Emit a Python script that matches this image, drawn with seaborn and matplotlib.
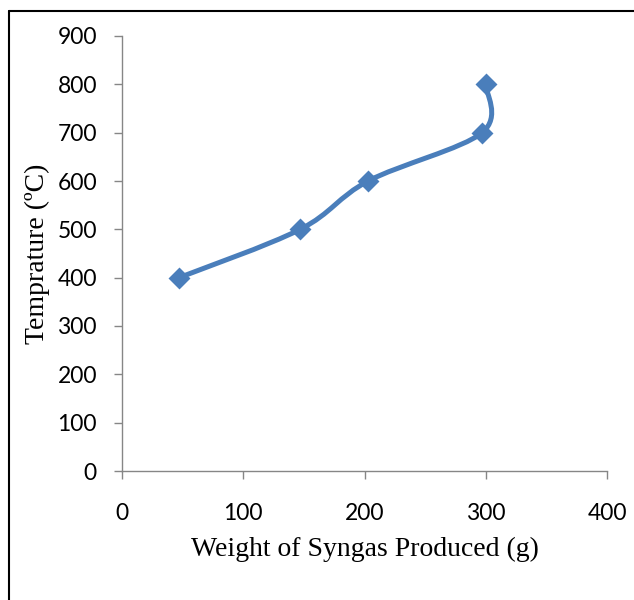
import numpy as np
import matplotlib
matplotlib.use("Agg")
import matplotlib.pyplot as plt
from matplotlib.path import Path
from matplotlib.patches import PathPatch
from matplotlib.lines import Line2D
import seaborn as sns

# data
weight = [47, 147, 203, 297, 300]
temperature = [400, 500, 600, 700, 800]
x_ticks = [0, 100, 200, 300, 400]
y_ticks = [0, 100, 200, 300, 400, 500, 600, 700, 800, 900]

blue = "#4A7EBB"
grey = "#868686"

sns.set_style("white")
plt.rcParams["font.family"] = ["Lato", "DejaVu Sans"]

fig = plt.figure(figsize=(6.34, 6.0), dpi=100)
ax = fig.add_axes([122 / 634, 1 - 471 / 600, 485 / 634, 435 / 600])

# Excel-style smoothed line (cubic bezier through the points)
pts = np.column_stack([weight, temperature]).astype(float)
ext = np.vstack([pts[0], pts, pts[-1]])
verts = [tuple(pts[0])]
codes = [Path.MOVETO]
for i in range(len(pts) - 1):
    p0, p1, p2, p3 = ext[i], ext[i + 1], ext[i + 2], ext[i + 3]
    c1 = p1 + (p2 - p0) / 6
    c2 = p2 - (p3 - p1) / 6
    verts += [tuple(c1), tuple(c2), tuple(p2)]
    codes += [Path.CURVE4] * 3
ax.add_patch(PathPatch(Path(verts, codes), facecolor="none", edgecolor=blue,
                       lw=3.6, capstyle="round", joinstyle="round", zorder=2))

sns.scatterplot(x=weight, y=temperature, marker="D", s=125, color=blue,
                edgecolor=blue, linewidth=0, ax=ax, zorder=3)

ax.set_xlim(0, 400)
ax.set_ylim(0, 900)
ax.set_xticks(x_ticks)
ax.set_yticks(y_ticks)
ax.tick_params(axis="both", direction="out", length=6, width=1, color=grey,
               labelsize=16.5, labelcolor="black", left=True, bottom=True)
ax.tick_params(axis="x", pad=17)
ax.tick_params(axis="y", pad=12)
for side in ["top", "right"]:
    ax.spines[side].set_visible(False)
for side in ["left", "bottom"]:
    ax.spines[side].set_color(grey)
    ax.spines[side].set_linewidth(1)

serif = ["Liberation Serif", "DejaVu Serif"]
ax.set_xlabel("Weight of Syngas Produced (g)", fontsize=20, family=serif,
              color="black", labelpad=9)
ax.set_ylabel("Temprature (ºC)", fontsize=20, family=serif,
              color="black", labelpad=5)

# outer frame, cut off at right and bottom as in the reference
fx = 9 / 634
fy = 1 - 11 / 600
fig.add_artist(Line2D([fx, fx], [0, fy], transform=fig.transFigure, color="black", lw=1.5))
fig.add_artist(Line2D([fx, 1], [fy, fy], transform=fig.transFigure, color="black", lw=1.5))

fig.savefig("out.png", dpi=100)
